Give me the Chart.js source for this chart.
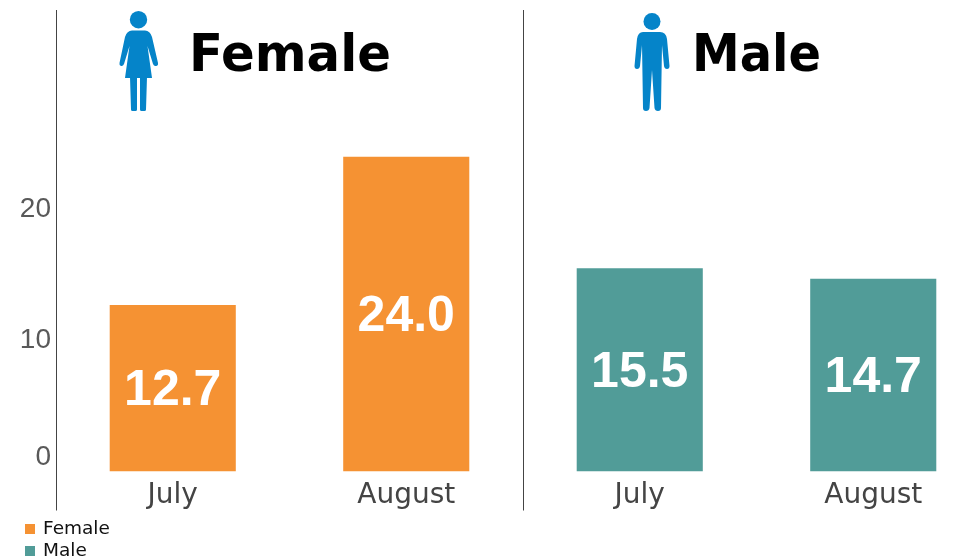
<!DOCTYPE html>
<html>
<head>
<meta charset="utf-8">
<title>Female and Male, July and August</title>
<script src="https://cdn.jsdelivr.net/npm/chart.js@4"></script>
<style>
  html, body { margin: 0; padding: 0; background: #fff; overflow: hidden; }
  #wrap { position: relative; width: 979px; height: 557px; overflow: hidden; }
  #chart-box { position: absolute; left: 0; top: 0; width: 990px; height: 557px; }
  #legend { position: absolute; left: 25px; top: 517px; font: 18.5px "DejaVu Sans", sans-serif; color: #111; }
  #legend div { height: 22px; line-height: 22px; white-space: nowrap; }
  #legend i { display: inline-block; width: 10px; height: 10px; margin-right: 8px; }
  .person { position: absolute; top: 0; left: 0; }
</style>
</head>
<body>
<div id="wrap">
  <div id="chart-box"><canvas id="chart"></canvas></div>
  <div id="legend"></div>
  <!-- Female icon -->
  <svg class="person" style="left:119px;top:11px" width="40" height="101" viewBox="0 0 40 101">
    <circle cx="19.500" cy="8.700" r="8.700" fill="#0584c9"/>
    <path d="M13 19.500 H26 Q31 19.500 33 26 L39 52 Q39.500 54.500 37 55 Q35 55.500 34 53 L28.500 35 L33 67 H6 L10.500 35 L5 53 Q4 55.500 2 55 Q0 54.500 0.500 52 L6 26 Q8 19.500 13 19.500 Z" fill="#0584c9"/>
    <path d="M11 66 H18 V98.500 Q18 100 16.500 100 H13.500 Q12 100 12 98.500 Z M21 66 H28 L27 98.500 Q27 100 25.500 100 H22.500 Q21 100 21 98.500 Z" fill="#0584c9"/>
  </svg>
  <!-- Male icon -->
  <svg class="person" style="left:634px;top:12px" width="36" height="100" viewBox="0 0 36 100">
    <circle cx="18" cy="9.500" r="8.500" fill="#0584c9"/>
    <path d="M9 20 H26 Q32 20 33 27 L35.500 54 Q35.500 57 33 57 Q30.500 57 30 54 L28 33 L27 96 Q27 99 24 99 Q21 99 20.500 96 L18 58 L15.500 96 Q15 99 12 99 Q9 99 9 96 L8 33 L6 54 Q5.500 57 3 57 Q0.500 57 0.500 54 L3 27 Q4 20 9 20 Z" fill="#0584c9"/>
  </svg>
</div>
<script>
  // Chart data
  const months = ['July', 'August', 'July', 'August'];
  const femaleValues = [12.7, 24.0, null, null];
  const maleValues = [null, null, 15.5, 14.7];
  const yTicks = [0, 10, 20];
  const panelTitles = ['Female', 'Male'];

  const colors = {
    female: '#f59233',
    male: '#519c98',
    axisText: '#595959',
    monthText: '#444444',
    divider: '#444444',
  };

  // Big headings over each panel and value labels inside the bars
  const barText = {
    id: 'barText',
    afterDatasetsDraw(chart) {
      const { ctx } = chart;
      ctx.save();
      ctx.fillStyle = '#000';
      ctx.font = 'bold 52px "DejaVu Sans"';
      ctx.textAlign = 'left';
      ctx.textBaseline = 'alphabetic';
      ctx.fillText(panelTitles[0], 189, 71, 202);
      ctx.fillText(panelTitles[1], 692, 71, 129);

      ctx.fillStyle = '#fff';
      ctx.font = 'bold 50px "Liberation Sans"';
      ctx.textAlign = 'center';
      ctx.textBaseline = 'middle';
      chart.data.datasets.forEach((ds, i) => {
        chart.getDatasetMeta(i).data.forEach((bar, j) => {
          if (ds.data[j] == null) return;
          ctx.fillText(ds.data[j].toFixed(1), bar.x, (bar.y + bar.base) / 2 + 3);
        });
      });
      ctx.restore();
    },
  };

  const chart = new Chart(document.getElementById('chart'), {
    type: 'bar',
    data: {
      labels: months,
      datasets: [
        { label: 'Female', data: femaleValues, backgroundColor: colors.female },
        { label: 'Male', data: maleValues, backgroundColor: colors.male },
      ],
    },
    options: {
      responsive: true,
      maintainAspectRatio: false,
      animation: false,
      layout: { autoPadding: false, padding: { top: 10, right: 0, bottom: 0, left: 0 } },
      plugins: {
        legend: { display: false },
        tooltip: { enabled: false },
      },
      datasets: { bar: { barPercentage: 0.54, categoryPercentage: 1 } },
      scales: {
        x: {
          stacked: true,
          border: { display: false },
          grid: {
            offset: true,
            drawOnChartArea: true,
            tickLength: 39,
            lineWidth: 1,
            color: (c) => (c.index === 0 || c.index === 2 ? colors.divider : 'transparent'),
          },
          ticks: {
            padding: -32,
            color: colors.monthText,
            font: { family: '"DejaVu Sans"', size: 28 },
            maxRotation: 0,
          },
          afterFit(scale) { scale.height = 85.5; },
        },
        y: {
          min: 0,
          max: 35.2,
          border: { display: false },
          grid: { display: false, drawTicks: false },
          afterBuildTicks(scale) { scale.ticks = yTicks.map((value) => ({ value })); },
          afterFit(scale) {
            scale.width = 56;
            // labels must not push the plot area down
            scale.paddingTop = 0;
            scale.paddingBottom = 0;
          },
          ticks: {
            padding: 5,
            color: colors.axisText,
            font: { family: '"Liberation Sans"', size: 28, lineHeight: 1 },
            // zero label sits above the baseline in the reference
            callback: (v) => (v === 0 ? ['0', ''] : String(v)),
          },
        },
      },
    },
    plugins: [barText],
  });

  // Legend stacked under the chart, left aligned
  const legendEl = document.getElementById('legend');
  chart.data.datasets.forEach((ds) => {
    const row = document.createElement('div');
    const swatch = document.createElement('i');
    swatch.style.background = ds.backgroundColor;
    row.appendChild(swatch);
    row.appendChild(document.createTextNode(ds.label));
    legendEl.appendChild(row);
  });
</script>
</body>
</html>
